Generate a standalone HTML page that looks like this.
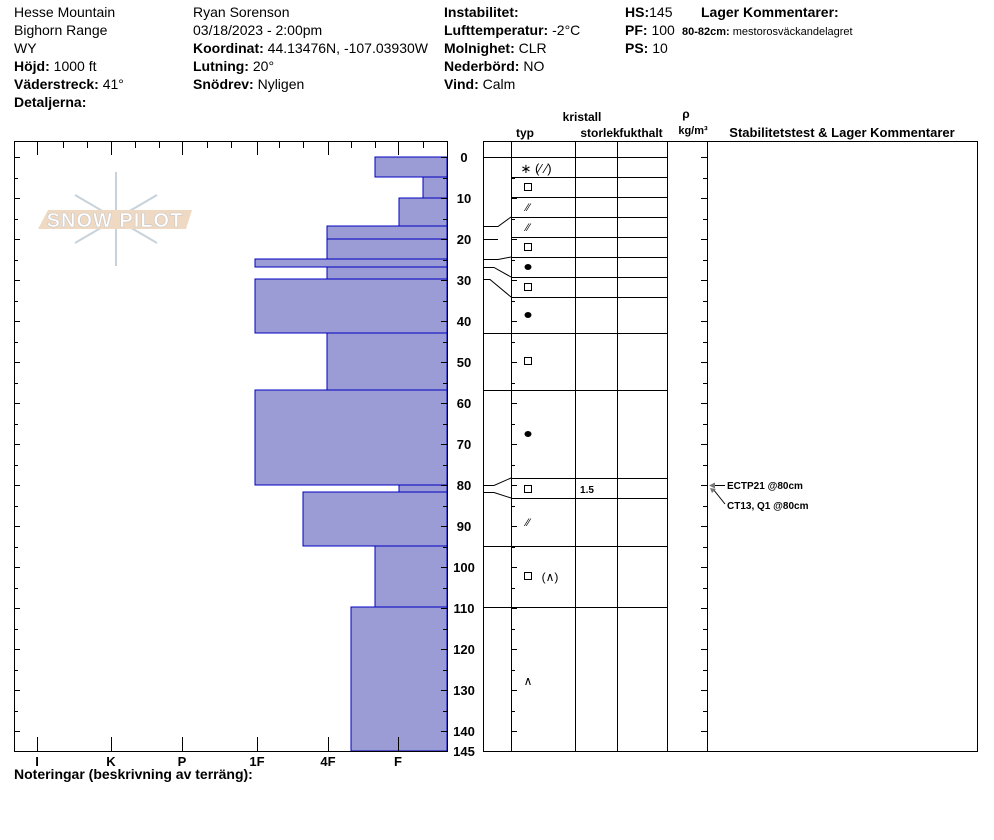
<!DOCTYPE html>
<html><head><meta charset="utf-8"><style>
body{margin:0;background:#fff;}
svg{display:block;font-family:"Liberation Sans",Arial,sans-serif;}
</style></head><body>
<svg width="994" height="840" viewBox="0 0 994 840" xmlns="http://www.w3.org/2000/svg">
<defs>
<g id="mi" stroke="#000"><line x1="14" y1="0.5" x2="18" y2="0.5"/><line x1="443" y1="0.5" x2="447" y2="0.5"/><line x1="511" y1="0.5" x2="515" y2="0.5"/><line x1="703" y1="0.5" x2="707" y2="0.5"/></g>
<g id="ma" stroke="#000"><line x1="14" y1="0.5" x2="20" y2="0.5"/><line x1="441" y1="0.5" x2="447" y2="0.5"/><line x1="511" y1="0.5" x2="517" y2="0.5"/><line x1="701" y1="0.5" x2="707" y2="0.5"/></g>
</defs>
<g font-size="14" fill="#000">
<text x="14" y="17">Hesse Mountain</text>
<text x="14" y="35">Bighorn Range</text>
<text x="14" y="53">WY</text>
<text x="14" y="71"><tspan font-weight="bold">Höjd:</tspan> 1000 ft</text>
<text x="14" y="89"><tspan font-weight="bold">Väderstreck:</tspan> 41°</text>
<text x="14" y="107" font-weight="bold">Detaljerna:</text>
<text x="193" y="17">Ryan Sorenson</text>
<text x="193" y="35">03/18/2023 - 2:00pm</text>
<text x="193" y="53"><tspan font-weight="bold">Koordinat:</tspan> 44.13476N, -107.03930W</text>
<text x="193" y="71"><tspan font-weight="bold">Lutning:</tspan> 20°</text>
<text x="193" y="89"><tspan font-weight="bold">Snödrev:</tspan> Nyligen</text>
<text x="444" y="17" font-weight="bold">Instabilitet:</text>
<text x="444" y="35"><tspan font-weight="bold">Lufttemperatur:</tspan> -2°C</text>
<text x="444" y="53"><tspan font-weight="bold">Molnighet:</tspan> CLR</text>
<text x="444" y="71"><tspan font-weight="bold">Nederbörd:</tspan> NO</text>
<text x="444" y="89"><tspan font-weight="bold">Vind:</tspan>  Calm</text>
<text x="625" y="17"><tspan font-weight="bold">HS:</tspan>145</text>
<text x="625" y="35"><tspan font-weight="bold">PF:</tspan> 100</text>
<text x="625" y="53"><tspan font-weight="bold">PS:</tspan> 10</text>
<text x="701" y="17" font-weight="bold">Lager Kommentarer:</text>
<text x="682" y="35" font-size="11"><tspan font-weight="bold">80-82cm:</tspan> mestorosväckandelagret</text>
<text x="14" y="779" font-weight="bold">Noteringar (beskrivning av terräng):</text>
</g>
<!-- logo -->
<g stroke="#c8d2da" stroke-width="2" fill="none">
<line x1="116" y1="172" x2="116" y2="266"/>
<line x1="75" y1="195" x2="157" y2="243"/>
<line x1="75" y1="243" x2="157" y2="195"/>
</g>
<polygon points="48,210 192,210 186,229 38,229" fill="#f0d9c2"/>
<text x="115" y="227" font-size="20" fill="#fff" stroke="#c8c8c8" stroke-width="0.6" text-anchor="middle" font-weight="bold" letter-spacing="1">SNOW PILOT</text>
<!-- left chart bars -->
<g fill="#9b9bd6" stroke="#0000c0" stroke-width="1">
<rect x="375" y="157" width="72" height="20"/>
<rect x="423" y="177" width="24" height="21"/>
<rect x="399" y="198" width="48" height="28"/>
<rect x="327" y="226" width="120" height="13"/>
<rect x="327" y="239" width="120" height="20"/>
<rect x="255" y="259" width="192" height="8"/>
<rect x="327" y="267" width="120" height="12"/>
<rect x="255" y="279" width="192" height="54"/>
<rect x="327" y="333" width="120" height="57"/>
<rect x="255" y="390" width="192" height="95"/>
<rect x="399" y="485" width="48" height="7"/>
<rect x="303" y="492" width="144" height="54"/>
<rect x="375" y="546" width="72" height="61"/>
<rect x="351" y="607" width="96" height="144"/>
</g>
<rect x="14.5" y="141.5" width="433" height="610" fill="none" stroke="#000"/>
<g stroke="#000">
<line x1="37.5" y1="141" x2="37.5" y2="155"/><line x1="111.5" y1="141" x2="111.5" y2="155"/><line x1="182.5" y1="141" x2="182.5" y2="155"/><line x1="257.5" y1="141" x2="257.5" y2="155"/><line x1="328.5" y1="141" x2="328.5" y2="155"/><line x1="398.5" y1="141" x2="398.5" y2="155"/>
<line x1="63.5" y1="141" x2="63.5" y2="148"/><line x1="87.5" y1="141" x2="87.5" y2="148"/><line x1="135.5" y1="141" x2="135.5" y2="148"/><line x1="159.5" y1="141" x2="159.5" y2="148"/><line x1="207.5" y1="141" x2="207.5" y2="148"/><line x1="231.5" y1="141" x2="231.5" y2="148"/><line x1="279.5" y1="141" x2="279.5" y2="148"/><line x1="303.5" y1="141" x2="303.5" y2="148"/><line x1="351.5" y1="141" x2="351.5" y2="148"/><line x1="375.5" y1="141" x2="375.5" y2="148"/><line x1="423.5" y1="141" x2="423.5" y2="148"/>
<line x1="37.5" y1="751" x2="37.5" y2="737"/><line x1="111.5" y1="751" x2="111.5" y2="737"/><line x1="182.5" y1="751" x2="182.5" y2="737"/><line x1="257.5" y1="751" x2="257.5" y2="737"/><line x1="328.5" y1="751" x2="328.5" y2="737"/><line x1="398.5" y1="751" x2="398.5" y2="737"/>
</g>
<g font-size="13" font-weight="bold" text-anchor="middle">
<text x="37" y="766">I</text><text x="111" y="766">K</text><text x="182" y="766">P</text><text x="257" y="766">1F</text><text x="328" y="766">4F</text><text x="398" y="766">F</text>
</g>
<!-- depth labels -->
<g font-size="13" font-weight="bold" text-anchor="middle">
<text x="464" y="162">0</text><text x="464" y="203">10</text><text x="464" y="244">20</text><text x="464" y="285">30</text><text x="464" y="326">40</text><text x="464" y="367">50</text><text x="464" y="408">60</text><text x="464" y="449">70</text><text x="464" y="490">80</text><text x="464" y="531">90</text><text x="464" y="572">100</text><text x="464" y="613">110</text><text x="464" y="654">120</text><text x="464" y="695">130</text><text x="464" y="736">140</text><text x="464" y="756">145</text>
</g>
<!-- ticks -->
<use href="#ma" y="157"/><use href="#mi" y="178"/><use href="#ma" y="198"/><use href="#mi" y="219"/><use href="#ma" y="239"/><use href="#mi" y="260"/><use href="#ma" y="280"/><use href="#mi" y="301"/><use href="#ma" y="321"/><use href="#mi" y="342"/><use href="#ma" y="362"/><use href="#mi" y="383"/><use href="#ma" y="403"/><use href="#mi" y="424"/><use href="#ma" y="444"/><use href="#mi" y="465"/><use href="#ma" y="485"/><use href="#mi" y="506"/><use href="#ma" y="526"/><use href="#mi" y="547"/><use href="#ma" y="567"/><use href="#mi" y="588"/><use href="#ma" y="608"/><use href="#mi" y="629"/><use href="#ma" y="649"/><use href="#mi" y="670"/><use href="#ma" y="690"/><use href="#mi" y="711"/><use href="#ma" y="731"/>
<!-- right table -->
<g font-size="12" font-weight="bold" text-anchor="middle">
<text x="525" y="137">typ</text>
<text x="582" y="121">kristall</text>
<text x="600" y="137">storlek</text>
<text x="641" y="137">fukthalt</text>
<text x="686" y="118">ρ</text>
<text x="693" y="134" font-size="11">kg/m³</text>
<text x="842" y="137" font-size="13">Stabilitetstest &amp; Lager Kommentarer</text>
</g>
<g stroke="#000" fill="none">
<rect x="483.5" y="141.5" width="494" height="610"/>
<line x1="511.5" y1="141" x2="511.5" y2="751"/>
<line x1="575.5" y1="141" x2="575.5" y2="751"/>
<line x1="617.5" y1="141" x2="617.5" y2="751"/>
<line x1="667.5" y1="141" x2="667.5" y2="751"/>
<line x1="707.5" y1="141" x2="707.5" y2="751"/>
<line x1="483" y1="157.5" x2="667" y2="157.5"/>
<line x1="511" y1="177.5" x2="667" y2="177.5"/>
<line x1="511" y1="197.5" x2="667" y2="197.5"/>
<line x1="511" y1="217.5" x2="667" y2="217.5"/>
<line x1="511" y1="237.5" x2="667" y2="237.5"/>
<line x1="511" y1="257.5" x2="667" y2="257.5"/>
<line x1="511" y1="277.5" x2="667" y2="277.5"/>
<line x1="511" y1="297.5" x2="667" y2="297.5"/>
<line x1="483" y1="333.5" x2="667" y2="333.5"/>
<line x1="483" y1="390.5" x2="667" y2="390.5"/>
<line x1="511" y1="478.5" x2="667" y2="478.5"/>
<line x1="511" y1="498.5" x2="667" y2="498.5"/>
<line x1="483" y1="546.5" x2="667" y2="546.5"/>
<line x1="483" y1="607.5" x2="667" y2="607.5"/>
<polyline points="483,226.5 498,226.5 511,217"/>
<polyline points="483,239.5 498,239.5"/>
<polyline points="483,259.5 498,259.5 511,257"/>
<polyline points="483,267.5 494,267.5 511,277"/>
<polyline points="483,279.5 490,279.5 511,297"/>
<polyline points="483,485.5 494,485.5 511,478"/>
<polyline points="483,492.5 494,492.5 511,498"/>
</g>
<g font-size="13" text-anchor="middle">
<text x="536" y="173">∗ (⁄ ⁄)</text>
<rect x="524.5" y="183.5" width="7" height="7" fill="none" stroke="#000"/>
<text x="528" y="211" font-size="11">⁄⁄</text>
<text x="528" y="231" font-size="11">⁄⁄</text>
<rect x="524.5" y="243.5" width="7" height="7" fill="none" stroke="#000"/>
<ellipse cx="528" cy="267" rx="3.5" ry="3" fill="#000"/>
<rect x="524.5" y="283.5" width="7" height="7" fill="none" stroke="#000"/>
<ellipse cx="528" cy="315" rx="3.5" ry="3" fill="#000"/>
<rect x="524.5" y="357.5" width="7" height="7" fill="none" stroke="#000"/>
<ellipse cx="528" cy="434" rx="3.5" ry="3" fill="#000"/>
<rect x="524.5" y="485.5" width="7" height="7" fill="none" stroke="#000"/>
<text x="587" y="493" font-size="10" font-weight="bold">1.5</text>
<text x="528" y="526" font-size="11">⁄⁄</text>
<rect x="524.5" y="572.5" width="7" height="7" fill="none" stroke="#000"/>
<text x="550" y="581" font-size="12">(∧)</text>
<text x="528" y="685" font-size="12">∧</text>
</g>
<g font-size="10" font-weight="bold">
<text x="727" y="489">ECTP21 @80cm</text>
<text x="727" y="509">CT13, Q1 @80cm</text>
</g>
<g stroke="#000" fill="none">
<line x1="713" y1="485.5" x2="725" y2="485.5"/>
<line x1="713" y1="489" x2="725" y2="504"/>
</g>
<g fill="#777"><polygon points="709,485.5 715,482.5 715,488.5"/><polygon points="710,488 716,489 712,493"/></g>
</svg>
</body></html>
